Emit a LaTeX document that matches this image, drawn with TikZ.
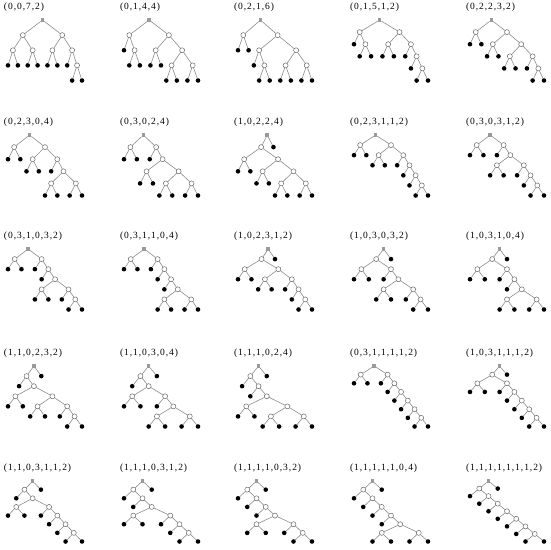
\documentclass[tikz,border=0pt]{standalone}
\usepackage{fontspec}
\newfontfamily\lblfont[LetterSpace=10]{Liberation Serif}
\definecolor{edgegray}{HTML}{8C8C8C}
\definecolor{rootgray}{HTML}{9A9A9A}
\definecolor{ringgray}{HTML}{5A5A5A}
\begin{document}
\begin{tikzpicture}[x=1pt, y=-1pt,
  every node/.style={inner sep=0pt, outer sep=0pt},
  lbl/.style={anchor=west, font=\lblfont\fontsize{9.5}{11}\selectfont},
  rt/.style={rectangle, minimum size=3.6pt, fill=rootgray},
  inn/.style={circle, minimum size=5pt, draw=ringgray, line width=.45pt, fill=white},
  lf/.style={circle, minimum size=4.6pt, fill=black},
  spread/.style={sibling distance=#1*\ux pt},
  edge from parent/.style={draw=edgegray, line width=.6pt},
]
\useasboundingbox (0,0) rectangle (550,550);

% ---- row 1 ----
\node[lbl] (n1) at (4,7) {(0,0,7,2)};
\def\ux{9.867}
\node[rt] (t1) at (42.53,20) {} [level distance=15.125pt, spread=4]
  child {node[inn] {} [spread=2]
    child {node[inn] {} [spread=1] child {node[lf] {}} child {node[lf] {}}}
    child {node[inn] {} [spread=1] child {node[lf] {}} child {node[lf] {}}}}
  child {node[inn] {} [spread=2]
    child {node[inn] {} [spread=1] child {node[lf] {}} child {node[lf] {}}}
    child {node[inn] {} [spread=1] child {node[lf] {}}
      child {node[inn] {} [spread=1] child {node[lf] {}} child {node[lf] {}}}}};

\node[lbl] (n2) at (120,7) {(0,1,4,4)};
\def\ux{10.571}
\node[rt] (t2) at (149.11,20) {} [level distance=15.125pt, spread=3.75]
  child {node[inn] {} [spread=1] child {node[lf] {}}
    child {node[inn] {} [spread=1] child {node[lf] {}} child {node[lf] {}}}}
  child {node[inn] {} [spread=2.5]
    child {node[inn] {} [spread=1] child {node[lf] {}} child {node[lf] {}}}
    child {node[inn] {} [spread=2]
      child {node[inn] {} [spread=1] child {node[lf] {}} child {node[lf] {}}}
      child {node[inn] {} [spread=1] child {node[lf] {}} child {node[lf] {}}}}};

\node[lbl] (n3) at (234,7) {(0,2,1,6)};
\def\ux{10.571}
\node[rt] (t3) at (260.46,20) {} [level distance=15.125pt, spread=3.25]
  child {node[inn] {} [spread=1] child {node[lf] {}} child {node[lf] {}}}
  child {node[inn] {} [spread=3.5]
    child {node[inn] {} [spread=1] child {node[lf] {}}
      child {node[inn] {} [spread=1] child {node[lf] {}} child {node[lf] {}}}}
    child {node[inn] {} [spread=2]
      child {node[inn] {} [spread=1] child {node[lf] {}} child {node[lf] {}}}
      child {node[inn] {} [spread=1] child {node[lf] {}} child {node[lf] {}}}}};

\node[lbl] (n4) at (350,7) {(0,1,5,1,2)};
\def\ux{11.385}
\node[rt] (t4) at (379.62,20) {} [level distance=12.1pt, spread=3.5]
  child {node[inn] {} [spread=1] child {node[lf] {}}
    child {node[inn] {} [spread=1] child {node[lf] {}} child {node[lf] {}}}}
  child {node[inn] {} [spread=2]
    child {node[inn] {} [spread=1] child {node[lf] {}} child {node[lf] {}}}
    child {node[inn] {} [spread=1] child {node[lf] {}}
      child {node[inn] {} [spread=1] child {node[lf] {}}
        child {node[inn] {} [spread=1] child {node[lf] {}} child {node[lf] {}}}}}};

\node[lbl] (n5) at (466,7) {(0,2,2,3,2)};
\def\ux{11.385}
\node[rt] (t5) at (491.35,20) {} [level distance=12.1pt, spread=2.75]
  child {node[inn] {} [spread=1] child {node[lf] {}} child {node[lf] {}}}
  child {node[inn] {} [spread=2.5]
    child {node[inn] {} [spread=1] child {node[lf] {}} child {node[lf] {}}}
    child {node[inn] {} [spread=2]
      child {node[inn] {} [spread=1] child {node[lf] {}} child {node[lf] {}}}
      child {node[inn] {} [spread=1] child {node[lf] {}}
        child {node[inn] {} [spread=1] child {node[lf] {}} child {node[lf] {}}}}}};

% ---- row 2 ----
\node[lbl] (n6) at (4,122) {(0,2,3,0,4)};
\def\ux{12.333}
\node[rt] (t6) at (29.58,135) {} [level distance=12.1pt, spread=2.5]
  child {node[inn] {} [spread=1] child {node[lf] {}} child {node[lf] {}}}
  child {node[inn] {} [spread=2]
    child {node[inn] {} [spread=1] child {node[lf] {}} child {node[lf] {}}}
    child {node[inn] {} [spread=1] child {node[lf] {}}
      child {node[inn] {} [spread=2]
        child {node[inn] {} [spread=1] child {node[lf] {}} child {node[lf] {}}}
        child {node[inn] {} [spread=1] child {node[lf] {}} child {node[lf] {}}}}}};

\node[lbl] (n7) at (120,122) {(0,3,0,2,4)};
\def\ux{12.870}
\node[rt] (t7) at (143.30,135) {} [level distance=12.1pt, spread=2]
  child {node[inn] {} [spread=1] child {node[lf] {}} child {node[lf] {}}}
  child {node[inn] {} [spread=1] child {node[lf] {}}
    child {node[inn] {} [spread=2.5]
      child {node[inn] {} [spread=1] child {node[lf] {}} child {node[lf] {}}}
      child {node[inn] {} [spread=2]
        child {node[inn] {} [spread=1] child {node[lf] {}} child {node[lf] {}}}
        child {node[inn] {} [spread=1] child {node[lf] {}} child {node[lf] {}}}}}};

\node[lbl] (n8) at (234,122) {(1,0,2,2,4)};
\def\ux{12.333}
\node[rt] (t8) at (267.29,135) {} [level distance=12.1pt, spread=1]
  child {node[inn] {} [spread=2.75]
    child {node[inn] {} [spread=1] child {node[lf] {}} child {node[lf] {}}}
    child {node[inn] {} [spread=2.5]
      child {node[inn] {} [spread=1] child {node[lf] {}} child {node[lf] {}}}
      child {node[inn] {} [spread=2]
        child {node[inn] {} [spread=1] child {node[lf] {}} child {node[lf] {}}}
        child {node[inn] {} [spread=1] child {node[lf] {}} child {node[lf] {}}}}}}
  child {node[lf] {}};

\node[lbl] (n9) at (350,122) {(0,2,3,1,1,2)};
\def\ux{12.333}
\node[rt] (t9) at (375.58,135) {} [level distance=10.083pt, spread=2.5]
  child {node[inn] {} [spread=1] child {node[lf] {}} child {node[lf] {}}}
  child {node[inn] {} [spread=2]
    child {node[inn] {} [spread=1] child {node[lf] {}} child {node[lf] {}}}
    child {node[inn] {} [spread=1] child {node[lf] {}}
      child {node[inn] {} [spread=1] child {node[lf] {}}
        child {node[inn] {} [spread=1] child {node[lf] {}}
          child {node[inn] {} [spread=1] child {node[lf] {}} child {node[lf] {}}}}}}};

\node[lbl] (n10) at (466,122) {(0,3,0,3,1,2)};
\def\ux{13.455}
\node[rt] (t10) at (490.18,135) {} [level distance=10.083pt, spread=2]
  child {node[inn] {} [spread=1] child {node[lf] {}} child {node[lf] {}}}
  child {node[inn] {} [spread=1] child {node[lf] {}}
    child {node[inn] {} [spread=2]
      child {node[inn] {} [spread=1] child {node[lf] {}} child {node[lf] {}}}
      child {node[inn] {} [spread=1] child {node[lf] {}}
        child {node[inn] {} [spread=1] child {node[lf] {}}
          child {node[inn] {} [spread=1] child {node[lf] {}} child {node[lf] {}}}}}}};

% ---- row 3 ----
\node[lbl] (n11) at (4,236) {(0,3,1,0,3,2)};
\def\ux{13.455}
\node[rt] (t11) at (28.18,249) {} [level distance=10.083pt, spread=2]
  child {node[inn] {} [spread=1] child {node[lf] {}} child {node[lf] {}}}
  child {node[inn] {} [spread=1] child {node[lf] {}}
    child {node[inn] {} [spread=1] child {node[lf] {}}
      child {node[inn] {} [spread=2]
        child {node[inn] {} [spread=1] child {node[lf] {}} child {node[lf] {}}}
        child {node[inn] {} [spread=1] child {node[lf] {}}
          child {node[inn] {} [spread=1] child {node[lf] {}} child {node[lf] {}}}}}}};

\node[lbl] (n12) at (120,236) {(0,3,1,1,0,4)};
\def\ux{13.455}
\node[rt] (t12) at (144.18,249) {} [level distance=10.083pt, spread=2]
  child {node[inn] {} [spread=1] child {node[lf] {}} child {node[lf] {}}}
  child {node[inn] {} [spread=1] child {node[lf] {}}
    child {node[inn] {} [spread=1] child {node[lf] {}}
      child {node[inn] {} [spread=1] child {node[lf] {}}
        child {node[inn] {} [spread=2]
          child {node[inn] {} [spread=1] child {node[lf] {}} child {node[lf] {}}}
          child {node[inn] {} [spread=1] child {node[lf] {}} child {node[lf] {}}}}}}};

\node[lbl] (n13) at (234,236) {(1,0,2,3,1,2)};
\def\ux{13.455}
\node[rt] (t13) at (268.27,249) {} [level distance=10.083pt, spread=1]
  child {node[inn] {} [spread=2.5]
    child {node[inn] {} [spread=1] child {node[lf] {}} child {node[lf] {}}}
    child {node[inn] {} [spread=2]
      child {node[inn] {} [spread=1] child {node[lf] {}} child {node[lf] {}}}
      child {node[inn] {} [spread=1] child {node[lf] {}}
        child {node[inn] {} [spread=1] child {node[lf] {}}
          child {node[inn] {} [spread=1] child {node[lf] {}} child {node[lf] {}}}}}}}
  child {node[lf] {}};

\node[lbl] (n14) at (350,236) {(1,0,3,0,3,2)};
\def\ux{14.8}
\node[rt] (t14) at (383.6,249) {} [level distance=10.083pt, spread=1]
  child {node[inn] {} [spread=2]
    child {node[inn] {} [spread=1] child {node[lf] {}} child {node[lf] {}}}
    child {node[inn] {} [spread=1] child {node[lf] {}}
      child {node[inn] {} [spread=2]
        child {node[inn] {} [spread=1] child {node[lf] {}} child {node[lf] {}}}
        child {node[inn] {} [spread=1] child {node[lf] {}}
          child {node[inn] {} [spread=1] child {node[lf] {}} child {node[lf] {}}}}}}}
  child {node[lf] {}};

\node[lbl] (n15) at (466,236) {(1,0,3,1,0,4)};
\def\ux{14.8}
\node[rt] (t15) at (499.6,249) {} [level distance=10.083pt, spread=1]
  child {node[inn] {} [spread=2]
    child {node[inn] {} [spread=1] child {node[lf] {}} child {node[lf] {}}}
    child {node[inn] {} [spread=1] child {node[lf] {}}
      child {node[inn] {} [spread=1] child {node[lf] {}}
        child {node[inn] {} [spread=2]
          child {node[inn] {} [spread=1] child {node[lf] {}} child {node[lf] {}}}
          child {node[inn] {} [spread=1] child {node[lf] {}} child {node[lf] {}}}}}}}
  child {node[lf] {}};

% ---- row 4 ----
\node[lbl] (n16) at (4,353) {(1,1,0,2,3,2)};
\def\ux{14.8}
\node[rt] (t16) at (33.9,366) {} [level distance=10.083pt, spread=1]
  child {node[inn] {} [spread=1] child {node[lf] {}}
    child {node[inn] {} [spread=2.5]
      child {node[inn] {} [spread=1] child {node[lf] {}} child {node[lf] {}}}
      child {node[inn] {} [spread=2]
        child {node[inn] {} [spread=1] child {node[lf] {}} child {node[lf] {}}}
        child {node[inn] {} [spread=1] child {node[lf] {}}
          child {node[inn] {} [spread=1] child {node[lf] {}} child {node[lf] {}}}}}}}
  child {node[lf] {}};

\node[lbl] (n17) at (120,353) {(1,1,0,3,0,4)};
\def\ux{16.444}
\node[rt] (t17) at (148.67,366) {} [level distance=10.083pt, spread=1]
  child {node[inn] {} [spread=1] child {node[lf] {}}
    child {node[inn] {} [spread=2]
      child {node[inn] {} [spread=1] child {node[lf] {}} child {node[lf] {}}}
      child {node[inn] {} [spread=1] child {node[lf] {}}
        child {node[inn] {} [spread=2]
          child {node[inn] {} [spread=1] child {node[lf] {}} child {node[lf] {}}}
          child {node[inn] {} [spread=1] child {node[lf] {}} child {node[lf] {}}}}}}}
  child {node[lf] {}};

\node[lbl] (n18) at (234,353) {(1,1,1,0,2,4)};
\def\ux{16.444}
\node[rt] (t18) at (258.56,366) {} [level distance=10.083pt, spread=1]
  child {node[inn] {} [spread=1] child {node[lf] {}}
    child {node[inn] {} [spread=1] child {node[lf] {}}
      child {node[inn] {} [spread=2.5]
        child {node[inn] {} [spread=1] child {node[lf] {}} child {node[lf] {}}}
        child {node[inn] {} [spread=2]
          child {node[inn] {} [spread=1] child {node[lf] {}} child {node[lf] {}}}
          child {node[inn] {} [spread=1] child {node[lf] {}} child {node[lf] {}}}}}}}
  child {node[lf] {}};

\node[lbl] (n19) at (350,353) {(0,3,1,1,1,1,2)};
\def\ux{13.455}
\node[rt] (t19) at (374.18,366) {} [level distance=8.643pt, spread=2]
  child {node[inn] {} [spread=1] child {node[lf] {}} child {node[lf] {}}}
  child {node[inn] {} [spread=1] child {node[lf] {}}
    child {node[inn] {} [spread=1] child {node[lf] {}}
      child {node[inn] {} [spread=1] child {node[lf] {}}
        child {node[inn] {} [spread=1] child {node[lf] {}}
          child {node[inn] {} [spread=1] child {node[lf] {}}
            child {node[inn] {} [spread=1] child {node[lf] {}} child {node[lf] {}}}}}}}};

\node[lbl] (n20) at (466,353) {(1,0,3,1,1,1,2)};
\def\ux{14.8}
\node[rt] (t20) at (499.6,366) {} [level distance=8.643pt, spread=1]
  child {node[inn] {} [spread=2]
    child {node[inn] {} [spread=1] child {node[lf] {}} child {node[lf] {}}}
    child {node[inn] {} [spread=1] child {node[lf] {}}
      child {node[inn] {} [spread=1] child {node[lf] {}}
        child {node[inn] {} [spread=1] child {node[lf] {}}
          child {node[inn] {} [spread=1] child {node[lf] {}}
            child {node[inn] {} [spread=1] child {node[lf] {}} child {node[lf] {}}}}}}}}
  child {node[lf] {}};

% ---- row 5 ----
\node[lbl] (n21) at (4,468) {(1,1,0,3,1,1,2)};
\def\ux{16.444}
\node[rt] (t21) at (32.67,481) {} [level distance=8.643pt, spread=1]
  child {node[inn] {} [spread=1] child {node[lf] {}}
    child {node[inn] {} [spread=2]
      child {node[inn] {} [spread=1] child {node[lf] {}} child {node[lf] {}}}
      child {node[inn] {} [spread=1] child {node[lf] {}}
        child {node[inn] {} [spread=1] child {node[lf] {}}
          child {node[inn] {} [spread=1] child {node[lf] {}}
            child {node[inn] {} [spread=1] child {node[lf] {}} child {node[lf] {}}}}}}}}
  child {node[lf] {}};

\node[lbl] (n22) at (120,468) {(1,1,1,0,3,1,2)};
\def\ux{18.5}
\node[rt] (t22) at (142.5,481) {} [level distance=8.643pt, spread=1]
  child {node[inn] {} [spread=1] child {node[lf] {}}
    child {node[inn] {} [spread=1] child {node[lf] {}}
      child {node[inn] {} [spread=2]
        child {node[inn] {} [spread=1] child {node[lf] {}} child {node[lf] {}}}
        child {node[inn] {} [spread=1] child {node[lf] {}}
          child {node[inn] {} [spread=1] child {node[lf] {}}
            child {node[inn] {} [spread=1] child {node[lf] {}} child {node[lf] {}}}}}}}}
  child {node[lf] {}};

\node[lbl] (n23) at (234,468) {(1,1,1,1,0,3,2)};
\def\ux{18.5}
\node[rt] (t23) at (256.5,481) {} [level distance=8.643pt, spread=1]
  child {node[inn] {} [spread=1] child {node[lf] {}}
    child {node[inn] {} [spread=1] child {node[lf] {}}
      child {node[inn] {} [spread=1] child {node[lf] {}}
        child {node[inn] {} [spread=2]
          child {node[inn] {} [spread=1] child {node[lf] {}} child {node[lf] {}}}
          child {node[inn] {} [spread=1] child {node[lf] {}}
            child {node[inn] {} [spread=1] child {node[lf] {}} child {node[lf] {}}}}}}}}
  child {node[lf] {}};

\node[lbl] (n24) at (350,468) {(1,1,1,1,1,0,4)};
\def\ux{18.5}
\node[rt] (t24) at (372.5,481) {} [level distance=8.643pt, spread=1]
  child {node[inn] {} [spread=1] child {node[lf] {}}
    child {node[inn] {} [spread=1] child {node[lf] {}}
      child {node[inn] {} [spread=1] child {node[lf] {}}
        child {node[inn] {} [spread=1] child {node[lf] {}}
          child {node[inn] {} [spread=2]
            child {node[inn] {} [spread=1] child {node[lf] {}} child {node[lf] {}}}
            child {node[inn] {} [spread=1] child {node[lf] {}} child {node[lf] {}}}}}}}}
  child {node[lf] {}};

\node[lbl] (n25) at (466,468) {(1,1,1,1,1,1,1,2)};
\def\ux{18.5}
\node[rt] (t25) at (488.5,481) {} [level distance=7.5625pt, spread=1]
  child {node[inn] {} [spread=1] child {node[lf] {}}
    child {node[inn] {} [spread=1] child {node[lf] {}}
      child {node[inn] {} [spread=1] child {node[lf] {}}
        child {node[inn] {} [spread=1] child {node[lf] {}}
          child {node[inn] {} [spread=1] child {node[lf] {}}
            child {node[inn] {} [spread=1] child {node[lf] {}}
              child {node[inn] {} [spread=1] child {node[lf] {}} child {node[lf] {}}}}}}}}}
  child {node[lf] {}};
\end{tikzpicture}
\end{document}
